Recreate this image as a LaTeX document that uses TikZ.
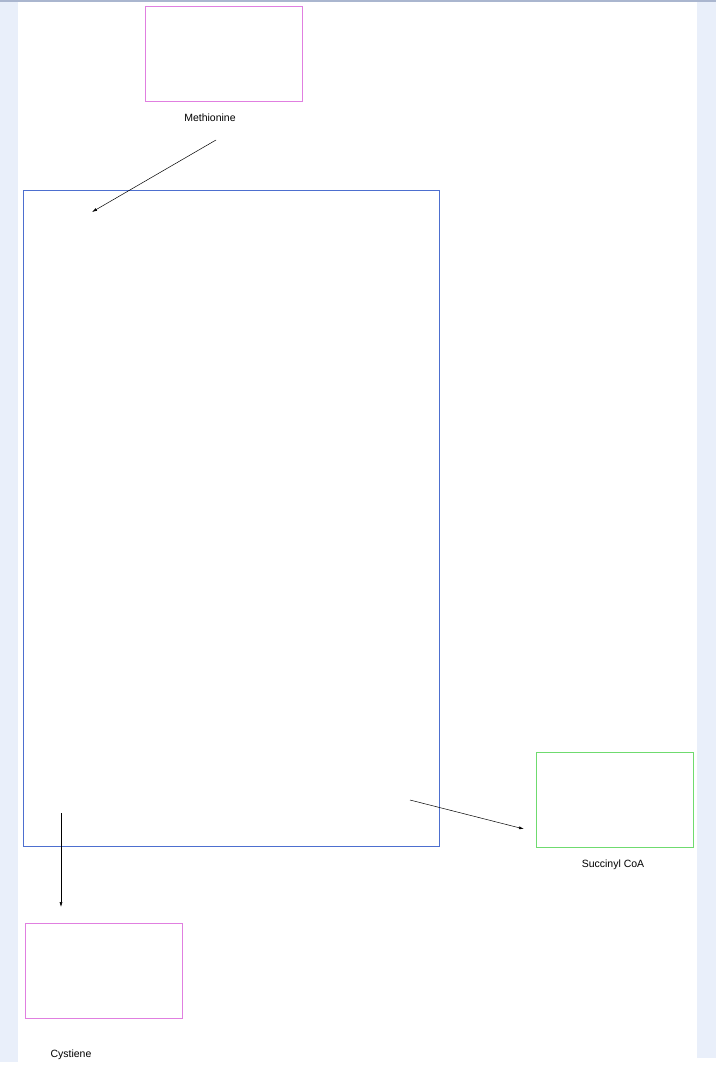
\documentclass[tikz,border=0pt]{standalone}
\usepackage{fontspec}
\setmainfont{Liberation Sans}
\usetikzlibrary{positioning, arrows.meta}

\definecolor{pagebg}{HTML}{E9EFFA}
\definecolor{pagetop}{HTML}{AAB6CF}
\definecolor{boxpink}{HTML}{E07FE0}
\definecolor{boxblue}{HTML}{4D6FCF}
\definecolor{boxgreen}{HTML}{6FDB6F}

\begin{document}
\begin{tikzpicture}[x=1pt, y=-1pt,
		compound/.style={draw, line width=0.8pt, minimum width=157pt, minimum height=95pt, inner sep=0pt},
		namelabel/.style={font=\fontsize{10.5}{12}\selectfont, inner sep=0pt},
		reaction/.style={-{Latex[length=5pt,width=3pt]}, line width=0.5pt}]

		% page background: side strips and the top rule
		\fill[white] (0,0) rectangle (716,1070);
		\fill[pagebg] (0,2) rectangle (18,1062);
		\fill[pagebg] (697,2) rectangle (716,1058);
		\fill[pagetop] (0,0) rectangle (716,2);
		\useasboundingbox (0,0) rectangle (716,1070);

		% the boxes
		\node[compound, draw=boxpink, anchor=north west] (met) at (145,6) {};
		\node[namelabel] (metlabel) at (210,118) {Methionine};
		\node[draw=boxblue, line width=0.8pt, minimum width=416pt, minimum height=656pt, inner sep=0pt, anchor=north west] (cycle) at (23,190) {};
		\node[compound, draw=boxgreen, anchor=north west] (suc) at (536,752) {};
		\node[namelabel] (suclabel) at (613,865) {Succinyl CoA};
		\node[compound, draw=boxpink, anchor=north west] (cys) at (25,923) {};
		\node[namelabel] (cyslabel) at (71,1055) {Cystiene};

		% free ends of the arrows
		\coordinate (metout) at (216,140);
		\coordinate (cyclein) at (92,212);
		\coordinate (sucout) at (410,800);
		\coordinate (sucin) at (524,829);
		\coordinate (cysout) at (61,813);
		\coordinate (cysin) at (61,907);

		% the arrows
		\draw[reaction] (metout) -- (cyclein);
		\draw[reaction] (sucout) -- (sucin);
		\draw[reaction] (cysout) -- (cysin);
	\end{tikzpicture}
\end{document}
